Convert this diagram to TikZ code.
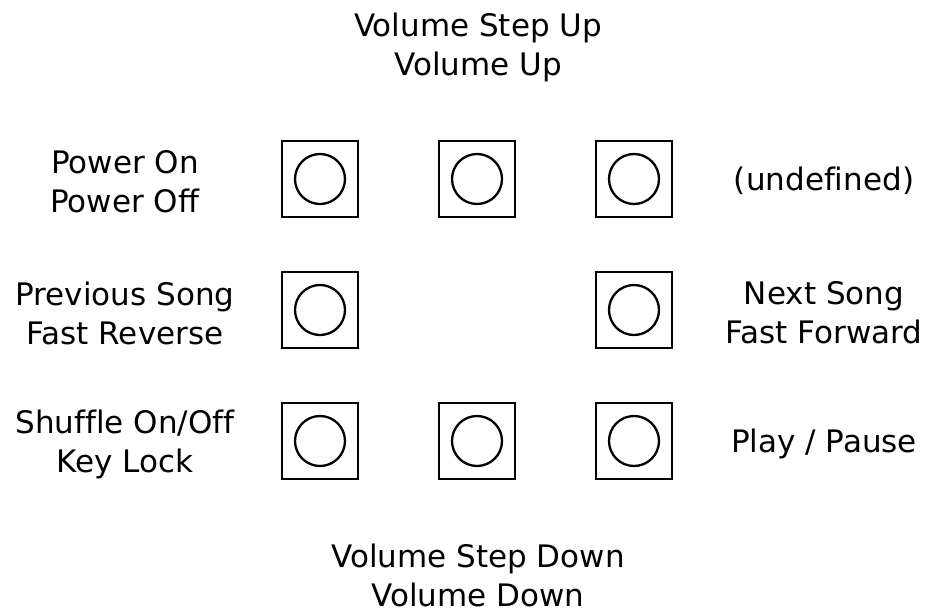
\documentclass[tikz,border=0pt]{standalone}
\usepackage{fontspec}
\setmainfont[Ligatures=CommonOff]{DejaVu Sans}
\newcommand{\nolig}{\kern0pt }
\begin{document}
\begin{tikzpicture}[x=1pt,y=-1pt,
  btn/.style={draw,line width=2.3pt,minimum size=76pt,inner sep=0pt},
  knob/.style={draw,line width=2.3pt,circle,minimum size=50pt,inner sep=0pt},
  lbl/.style={align=center,inner sep=0pt,font=\fontsize{31}{39}\selectfont}]
\useasboundingbox (0,0) rectangle (928,609);
\foreach \n/\x/\y in {a/320/179,b/477/179,c/634/179,d/320/310,f/634/310,g/320/441,h/477/441,i/634/441}{
  \node[btn] (\n) at (\x,\y) {};
  \node[knob] (k\n) at (\x,\y) {};
}
\node[lbl] (up) at (478,47) {Volume Step Up\\Volume Up};
\node[lbl] (pw) at (125,182) {Power On\\Power Of\nolig f};
\node[lbl] (un) at (824,181) {(undef\nolig ined)};
\node[lbl] (pr) at (125,313) {Previous Song\\Fast Reverse};
\node[lbl] (nx) at (824,313) {Next Song\\Fast Forward};
\node[lbl] (sh) at (125,444) {Shuf\nolig f\nolig le On/Of\nolig f\\Key Lock};
\node[lbl] (pp) at (824,444) {Play / Pause};
\node[lbl] (dn) at (478,575) {Volume Step Down\\Volume Down};
\end{tikzpicture}
\end{document}
